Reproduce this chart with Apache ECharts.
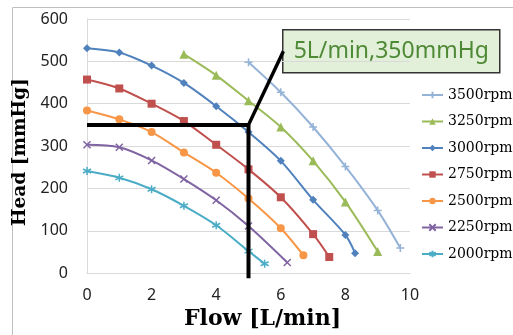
<!DOCTYPE html>
<html>
<head>
<meta charset="utf-8">
<script src="https://cdn.jsdelivr.net/npm/echarts@6/dist/echarts.min.js"></script>
<style>
  html, body { margin: 0; padding: 0; background: #fff; }
  #chart { width: 513px; height: 335px; }
</style>
</head>
<body>
<div id="chart"></div>
<script>
// pump curves: flow [L/min] vs head [mmHg]
const flow3500 = [5, 6, 7, 8, 9, 9.7];
const head3500 = [498, 427, 345, 252, 148, 59];
const flow3250 = [3, 4, 5, 6, 7, 8, 9];
const head3250 = [517, 467, 407, 345, 265, 168, 51];
const flow3000 = [0, 1, 2, 3, 4, 5, 6, 7, 8, 8.3];
const head3000 = [531, 521, 490, 449, 394, 333, 265, 173, 90, 47];
const flow2750 = [0, 1, 2, 3, 4, 5, 6, 7, 7.5];
const head2750 = [457, 436, 400, 359, 303, 245, 179, 92, 38];
const flow2500 = [0, 1, 2, 3, 4, 5, 6, 6.7];
const head2500 = [384, 363, 333, 285, 237, 176, 106, 42];
const flow2250 = [0, 1, 2, 3, 4, 5, 6.2];
const head2250 = [303, 297, 266, 222, 172, 111, 25];
const flow2000 = [0, 1, 2, 3, 4, 5, 5.5];
const head2000 = [241, 225, 198, 159, 113, 52, 22];

const seriesNames = ['3500rpm', '3250rpm', '3000rpm', '2750rpm', '2500rpm', '2250rpm', '2000rpm'];

// operating point annotation
const opFlow = 5;
const opHead = 350;
const noteText = '5L/min,350mmHg';
const noteLeader = [[5, 350], [6.08, 524]];

const symPlus = 'path://M0,-1L0,1M-1,0L1,0';
const symCross = 'path://M-1,-1L1,1M-1,1L1,-1';
const symStar = 'path://M0,-1L0,1M-0.87,-0.5L0.87,0.5M-0.87,0.5L0.87,-0.5';

const curves = [
  { name: '3500rpm', x: flow3500, y: head3500, color: '#95b3d7', symbol: symPlus, size: 8, stroke: true },
  { name: '3250rpm', x: flow3250, y: head3250, color: '#9bbb59', symbol: 'triangle', size: 9 },
  { name: '3000rpm', x: flow3000, y: head3000, color: '#4f81bd', symbol: 'diamond', size: 8 },
  { name: '2750rpm', x: flow2750, y: head2750, color: '#c0504d', symbol: 'rect', size: 8 },
  { name: '2500rpm', x: flow2500, y: head2500, color: '#f79646', symbol: 'circle', size: 8 },
  { name: '2250rpm', x: flow2250, y: head2250, color: '#8064a2', symbol: symCross, size: 7, stroke: true },
  { name: '2000rpm', x: flow2000, y: head2000, color: '#4bacc6', symbol: symStar, size: 8, stroke: true }
];

const chart = echarts.init(document.getElementById('chart'));

const series = curves.map(c => ({
  name: c.name,
  type: 'line',
  data: c.x.map((v, i) => [v, c.y[i]]),
  smooth: 0.3,
  symbol: c.symbol,
  symbolSize: c.size,
  showAllSymbol: true,
  lineStyle: { color: c.color, width: 2 },
  itemStyle: c.stroke
    ? { color: c.color, borderColor: c.color, borderWidth: 1.5 }
    : { color: c.color },
  emphasis: { disabled: true },
  z: 3
}));

series.push({
  name: 'guide',
  type: 'line',
  data: [[0, opHead], [opFlow, opHead], [opFlow, -12]],
  symbol: 'none',
  clip: false,
  lineStyle: { color: '#000', width: 4 },
  emphasis: { disabled: true },
  z: 5
});
series.push({
  name: 'leader',
  type: 'line',
  data: noteLeader,
  symbol: 'none',
  clip: false,
  lineStyle: { color: '#000', width: 3.5 },
  emphasis: { disabled: true },
  z: 5
});

const option = {
  animation: false,
  grid: { left: 87, right: 103, top: 19, bottom: 57 },
  xAxis: {
    type: 'value',
    min: 0,
    max: 10,
    interval: 2,
    name: 'Flow [L/min]',
    nameLocation: 'middle',
    nameGap: 32,
    nameTextStyle: {
      fontFamily: 'DejaVu Serif',
      fontWeight: 'bold',
      fontSize: 22,
      color: '#000',
      padding: [0, 0, 0, 28]
    },
    axisLine: { show: true, lineStyle: { color: '#d9d9d9' } },
    axisTick: { show: false },
    splitLine: { show: false },
    axisLabel: { fontFamily: 'Noto Sans', fontSize: 16, color: '#222', margin: 14 }
  },
  yAxis: {
    type: 'value',
    min: 0,
    max: 600,
    interval: 100,
    name: 'Head [mmHg]',
    nameLocation: 'middle',
    nameGap: 49,
    nameTextStyle: {
      fontFamily: 'DejaVu Serif',
      fontWeight: 'bold',
      fontSize: 18.5,
      color: '#000',
      padding: [0, 12, 0, 0]
    },
    axisLine: { show: true, lineStyle: { color: '#d9d9d9' } },
    axisTick: { show: false },
    splitLine: { show: true, lineStyle: { color: '#d9d9d9', width: 1 } },
    axisLabel: { fontFamily: 'Noto Sans', fontSize: 16, color: '#222', margin: 19 }
  },
  legend: {
    data: seriesNames,
    orient: 'vertical',
    left: 416,
    top: 81,
    itemWidth: 21,
    itemHeight: 8,
    itemGap: 8.5,
    textStyle: { fontFamily: 'DejaVu Serif', fontSize: 14, color: '#000', lineHeight: 18 }
  },
  graphic: [
    {
      type: 'rect',
      shape: { x: 12.5, y: 7.5, width: 520, height: 340 },
      style: { fill: 'none', stroke: '#bfbfbf', lineWidth: 1 },
      silent: true,
      z: 0
    },
    {
      type: 'group',
      left: 282,
      top: 29,
      z: 10,
      children: [
        {
          type: 'rect',
          shape: { x: 0, y: 0, width: 217, height: 43 },
          style: { fill: '#e2efd9', stroke: '#333', lineWidth: 1.5 }
        },
        {
          type: 'text',
          x: 108.5,
          y: 22,
          style: {
            text: noteText,
            fill: '#4e8a35',
            font: '23px "Noto Sans"',
            align: 'center',
            verticalAlign: 'middle'
          }
        }
      ]
    }
  ],
  series: series
};

chart.setOption(option);
</script>
</body>
</html>
